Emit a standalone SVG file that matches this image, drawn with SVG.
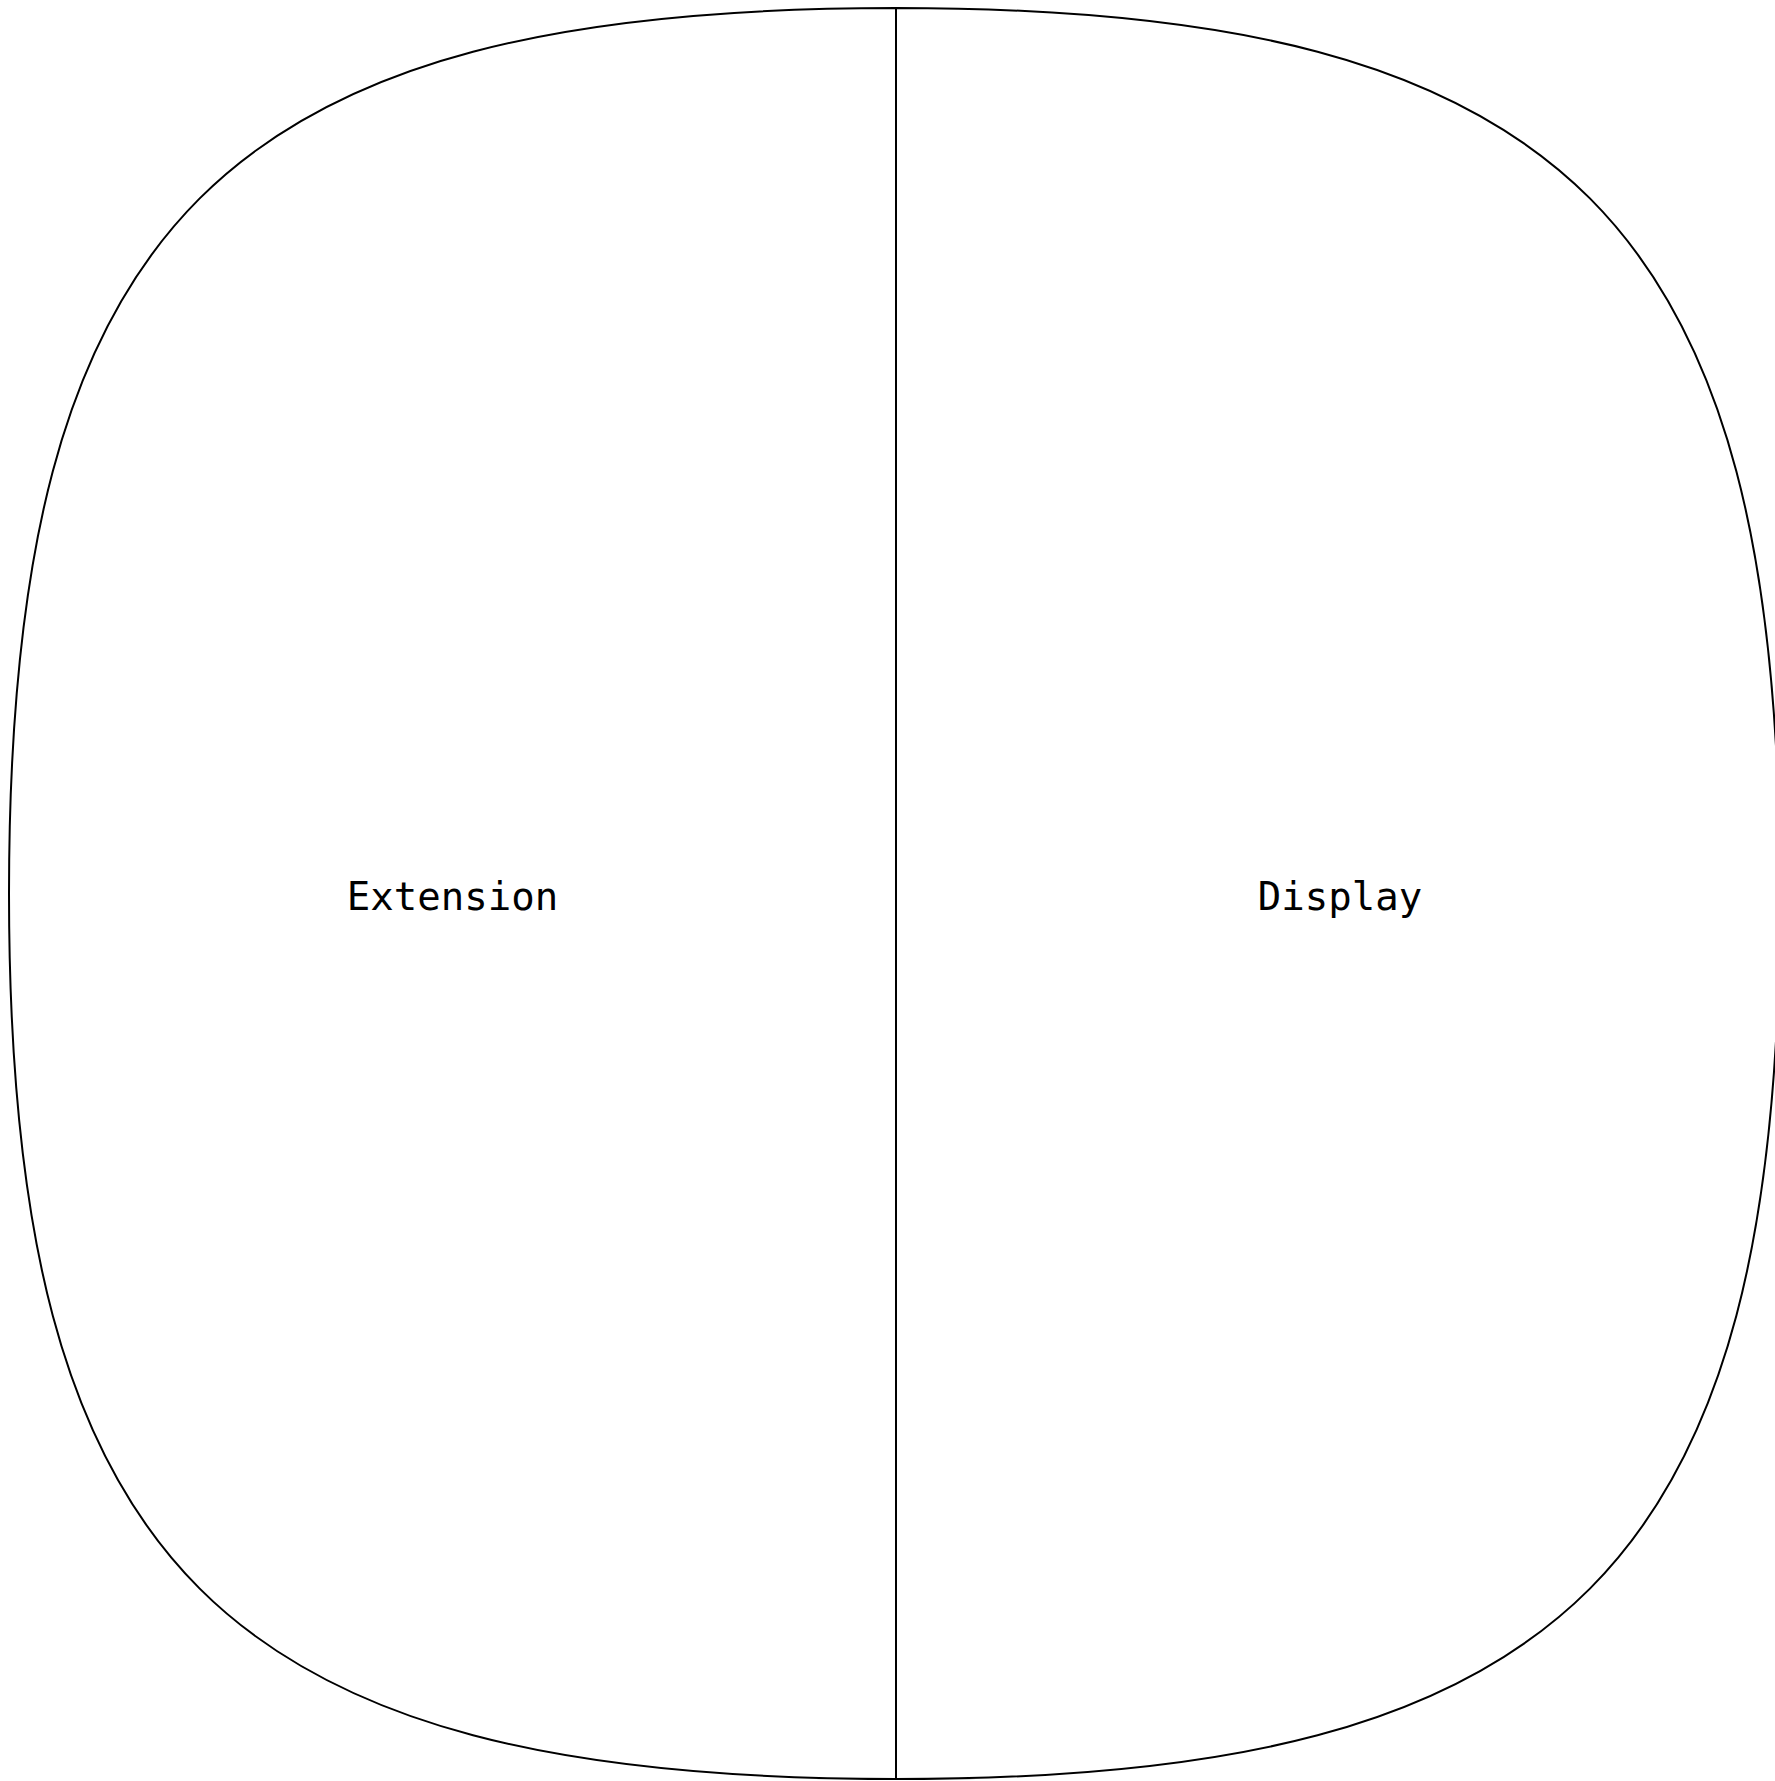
<svg xmlns="http://www.w3.org/2000/svg" width="1775" height="1781" viewBox="0 0 1775 1781">
  <style>
    .shape { fill: #ffffff; stroke: #000000; stroke-width: 2; stroke-linejoin: round; }
    .label { font-family: "DejaVu Sans Mono", "Liberation Mono", monospace; font-size: 39px; fill: #000000; text-anchor: middle; }
  </style>
  <rect x="0" y="0" width="1775" height="1781" fill="#ffffff"/>
  <g id="node-extension">
    <path class="shape" d="M 896,8 C 221.9,8 9,220.5 9,893.5 C 9,1566.5 221.9,1779 896,1779 Z"/>
    <text class="label" x="452.5" y="910">Extension</text>
  </g>
  <g id="node-display">
    <path class="shape" d="M 896,8 C 1567.8,8 1780,220.5 1780,893.5 C 1780,1566.5 1567.8,1779 896,1779 Z"/>
    <text class="label" x="1340" y="910">Display</text>
  </g>
  <g id="connectors"></g>
</svg>
